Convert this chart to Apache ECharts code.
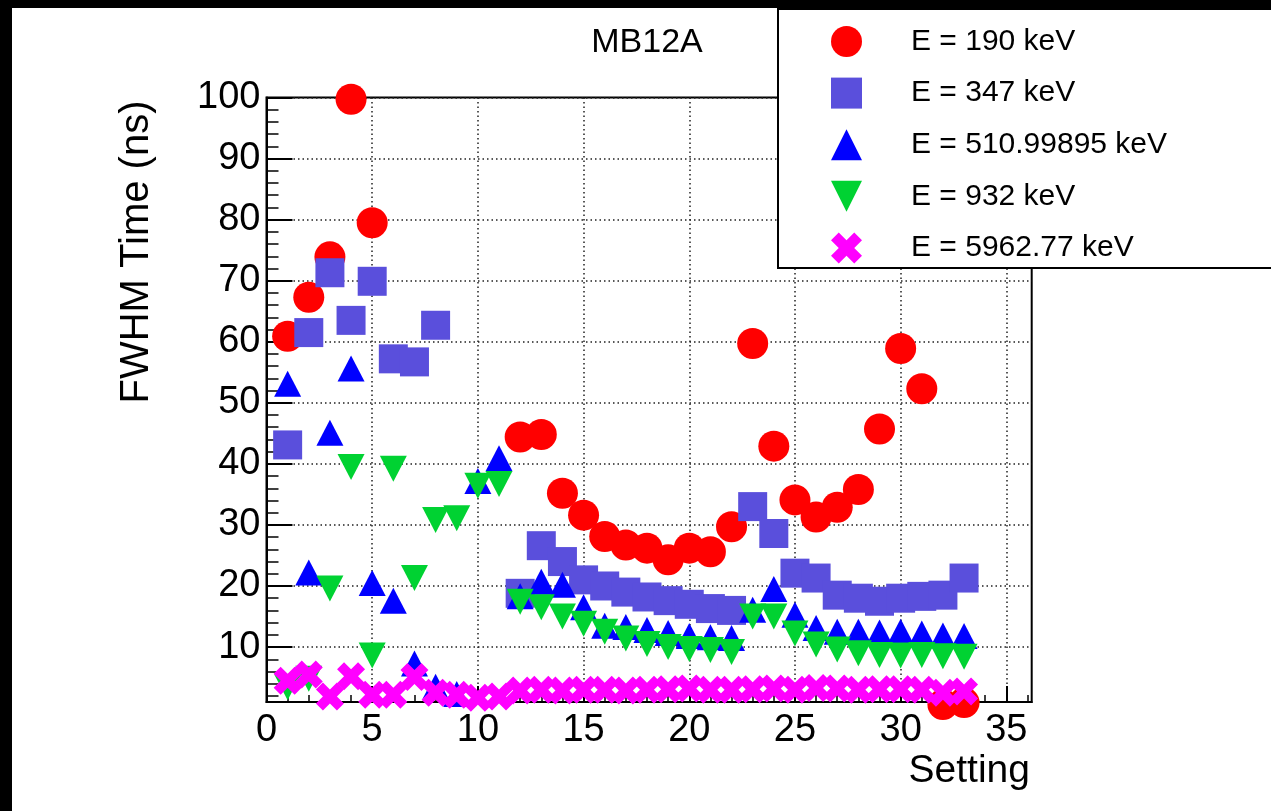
<!DOCTYPE html>
<html>
<head>
<meta charset="utf-8">
<title>MB12A FWHM Time</title>
<script src="https://cdn.jsdelivr.net/npm/echarts@6/dist/echarts.min.js"></script>
<style>
  html, body { margin: 0; padding: 0; background: #fff; }
  #chart { width: 1271px; height: 811px; }
</style>
</head>
<body>
<div id="chart"></div>
<script>
// Setting index (x) and FWHM time in ns (y) for each gamma energy
const settings = [1,2,3,4,5,6,7,8,9,10,11,12,13,14,15,16,17,18,19,20,21,22,23,24,25,26,27,28,29,30,31,32,33];

const fwhm190 = [60.9,67.3,73.9,99.7,79.5,null,null,null,null,null,null,
  44.4,44.8,35.2,31.6,28.1,26.7,26.2,24.3,26.2,25.6,29.7,59.7,42.9,34.1,31.3,32.9,35.8,45.7,58.9,52.3,0.6,0.9];

const fwhm347 = [43.1,61.5,71.3,63.5,69.9,57.2,56.7,62.7,null,null,null,
  18.8,26.6,24.0,21.0,20.0,19.0,18.2,17.6,17.0,16.3,16.0,33.0,28.6,22.1,21.3,18.5,18.0,17.5,18.0,18.3,18.5,21.3];

const fwhm511 = [53.1,22.2,45.1,55.6,20.5,17.6,7.3,3.5,2.3,37.2,40.9,
  18.3,20.7,20.2,16.5,13.5,13.3,12.8,12.3,11.8,11.6,11.5,16.1,19.5,15.3,13.1,12.5,12.5,12.4,12.5,12.2,11.9,11.8];

const fwhm932 = [3.4,4.8,19.6,39.5,8.6,39.2,21.3,30.8,31.1,36.4,36.7,
  17.4,16.5,15.0,13.8,12.5,11.4,10.5,10.0,9.7,9.5,9.2,15.0,15.0,12.2,10.4,9.6,9.0,8.7,8.6,8.7,8.5,8.4];

const fwhm5963 = [4.5,5.5,1.9,5.2,2.2,2.2,5.1,2.5,2.2,1.7,1.9,
  2.9,3.0,2.9,3.0,3.0,2.9,3.0,3.1,3.2,3.0,3.0,3.1,3.2,3.0,3.3,3.2,3.0,3.1,3.1,3.0,2.5,2.7];

const seriesNames = ['E = 190 keV','E = 347 keV','E = 510.99895 keV','E = 932 keV','E = 5962.77 keV'];

// Axis ticks and labels
const xMajorTicks = [0,5,10,15,20,25,30,35];
const xMinorTicks = [1,2,3,4,6,7,8,9,11,12,13,14,16,17,18,19,21,22,23,24,26,27,28,29,31,32,33,34,36];
const yMajorTicks = [10,20,30,40,50,60,70,80,90,100];
const yMinorTicks = [2,4,6,8,12,14,16,18,22,24,26,28,32,34,36,38,42,44,46,48,52,54,56,58,
  62,64,66,68,72,74,76,78,82,84,86,88,92,94,96,98];

const X_MIN = 0, X_MAX = 36.2, Y_MIN = 1, Y_MAX = 100;
const FONT = 'Liberation Sans, Arial, Helvetica, sans-serif';

const CROSS = 'path://M2.5,0 L5,2.5 L7.5,0 L10,2.5 L7.5,5 L10,7.5 L7.5,10 L5,7.5 L2.5,10 L0,7.5 L2.5,5 L0,2.5 Z';
const TRI_DOWN = 'path://M0,0 L10,0 L5,10 Z';

function pairs(values) {
  const out = [];
  settings.forEach((s, i) => { if (values[i] != null) out.push([s, values[i]]); });
  return out;
}

const styles = [
  { data: fwhm190,  symbol: 'circle',   size: 31,       color: '#ff0000' },
  { data: fwhm347,  symbol: 'rect',     size: 29,       color: '#5a4fdc' },
  { data: fwhm511,  symbol: 'triangle', size: [27, 26], color: '#0000ff' },
  { data: fwhm932,  symbol: TRI_DOWN,   size: [27, 26], color: '#00d232' },
  { data: fwhm5963, symbol: CROSS,      size: 28,       color: '#ff00ff' }
];

const series = styles.map((st, k) => ({
  name: seriesNames[k],
  type: 'scatter',
  xAxisIndex: 0,
  yAxisIndex: 0,
  clip: false,
  symbol: st.symbol,
  symbolSize: st.size,
  itemStyle: { color: st.color, opacity: 1 },
  emphasis: { disabled: true },
  data: pairs(st.data)
}));

const gridLine = { show: true, lineStyle: { color: '#222', width: 1.5, type: [1.5, 3] } };

const option = {
  animation: false,
  backgroundColor: '#fff',
  grid: {
    left: 266.5, top: 97.5, right: 239.3, bottom: 109,
    show: true, borderColor: '#000', borderWidth: 2, backgroundColor: '#fff'
  },
  xAxis: [
    {
      type: 'value', min: X_MIN, max: X_MAX, interval: 5,
      position: 'bottom',
      axisLine: { show: true, onZero: false, lineStyle: { color: '#000', width: 2 } },
      axisTick: { show: true, inside: true, length: 16, customValues: xMajorTicks, lineStyle: { color: '#000', width: 2 } },
      axisLabel: { customValues: xMajorTicks, margin: 10, fontSize: 38, fontFamily: FONT, color: '#000' },
      splitLine: gridLine
    },
    {
      type: 'value', min: X_MIN, max: X_MAX, interval: 5,
      position: 'bottom', offset: 0,
      axisLine: { show: false, onZero: false },
      axisTick: { show: true, inside: true, length: 7, customValues: xMinorTicks, lineStyle: { color: '#000', width: 1.5 } },
      axisLabel: { show: false },
      splitLine: { show: false }
    }
  ],
  yAxis: [
    {
      type: 'value', min: Y_MIN, max: Y_MAX, splitNumber: 10,
      position: 'left',
      axisLine: { show: true, onZero: false, lineStyle: { color: '#000', width: 2 } },
      axisTick: { show: true, inside: true, length: 26, customValues: yMajorTicks, lineStyle: { color: '#000', width: 2 } },
      axisLabel: { customValues: yMajorTicks, margin: 6, fontSize: 38, fontFamily: FONT, color: '#000' },
      splitLine: gridLine
    },
    {
      type: 'value', min: Y_MIN, max: Y_MAX, splitNumber: 10,
      position: 'left', offset: 0,
      axisLine: { show: false, onZero: false },
      axisTick: { show: true, inside: true, length: 12, customValues: yMinorTicks, lineStyle: { color: '#000', width: 1.5 } },
      axisLabel: { show: false },
      splitLine: { show: false }
    }
  ],
  legend: {
    orient: 'vertical',
    left: 826, top: 21,
    itemWidth: 31, itemHeight: 31, itemGap: 20.6,
    selectedMode: false,
    z: 150,
    textStyle: { fontSize: 30, fontFamily: FONT, color: '#000', padding: [0, 0, 0, 44] },
    data: seriesNames
  },
  graphic: [
    // legend frame, drawn over the plot's upper-right corner
    { type: 'rect', z: 100, shape: { x: 778, y: 9, width: 520, height: 259 },
      style: { fill: '#fff', stroke: '#000', lineWidth: 2 } },
    { type: 'text', z: 100, style: { text: 'MB12A', x: 647, y: 43, align: 'center', verticalAlign: 'middle',
      fontSize: 34, fontFamily: FONT, fill: '#000' } },
    { type: 'text', z: 100, rotation: Math.PI / 2, x: 137, y: 252,
      style: { text: 'FWHM Time (ns)', x: 0, y: 0, align: 'center', verticalAlign: 'middle',
      fontSize: 40, fontFamily: FONT, fill: '#000' } },
    { type: 'text', z: 100, style: { text: 'Setting', x: 1030, y: 771, align: 'right', verticalAlign: 'middle',
      fontSize: 39, fontFamily: FONT, fill: '#000' } },
    // canvas edge bands
    { type: 'rect', z: 200, shape: { x: 0, y: 0, width: 1271, height: 8 }, style: { fill: '#000' } },
    { type: 'rect', z: 200, shape: { x: 0, y: 0, width: 12, height: 811 }, style: { fill: '#000' } }
  ],
  series: series
};

const chart = echarts.init(document.getElementById('chart'), null, { renderer: 'canvas' });
chart.setOption(option);
</script>
</body>
</html>
